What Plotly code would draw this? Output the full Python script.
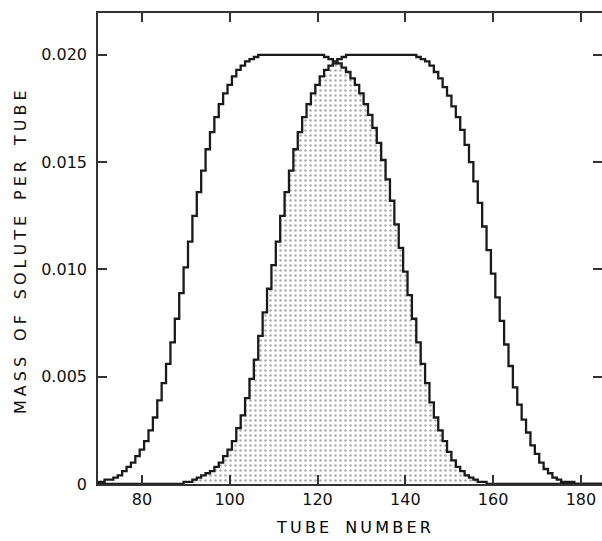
import numpy as np
import plotly.graph_objects as go

# Tube numbers
tubes = list(range(70, 186))

# Solute A (left band), mass per tube, tubes 70..185
solute_a = [
    0.0001, 0.0001, 0.0002, 0.0002, 0.0003, 0.0004, 0.0006, 0.0008, 0.0010, 0.0013,  # 70-79
    0.0016, 0.0020, 0.0025, 0.0031, 0.0039, 0.0047, 0.0056, 0.0066, 0.0077, 0.0089,  # 80-89
    0.0101, 0.0113, 0.0125, 0.0136, 0.0146, 0.0156, 0.0164, 0.0171, 0.0177, 0.0182,  # 90-99
    0.0186, 0.0190, 0.0193, 0.0195, 0.0197, 0.0198, 0.0199, 0.0200, 0.0200, 0.0200,  # 100-109
    0.0200, 0.0200, 0.0200, 0.0200, 0.0200, 0.0200, 0.0200, 0.0200, 0.0200, 0.0200,  # 110-119
    0.0200, 0.0200, 0.0199, 0.0198, 0.0197, 0.0196, 0.0194, 0.0192, 0.0189, 0.0186,  # 120-129
    0.0182, 0.0177, 0.0172, 0.0166, 0.0159, 0.0151, 0.0142, 0.0132, 0.0121, 0.0110,  # 130-139
    0.0099, 0.0088, 0.0077, 0.0066, 0.0056, 0.0047, 0.0038, 0.0031, 0.0025, 0.0020,  # 140-149
    0.0015, 0.0011, 0.0008, 0.0006, 0.0004, 0.0003, 0.0002, 0.0001, 0.0001, 0.0000,  # 150-159
    0.0, 0.0, 0.0, 0.0, 0.0, 0.0, 0.0, 0.0, 0.0, 0.0,                                # 160-169
    0.0, 0.0, 0.0, 0.0, 0.0, 0.0, 0.0, 0.0, 0.0, 0.0,                                # 170-179
    0.0, 0.0, 0.0, 0.0, 0.0, 0.0,                                                    # 180-185
]

# Solute B (right band), mass per tube, tubes 70..185
solute_b = [
    0.0, 0.0, 0.0, 0.0, 0.0, 0.0, 0.0, 0.0, 0.0, 0.0,                                # 70-79
    0.0, 0.0, 0.0, 0.0, 0.0, 0.0, 0.0, 0.0, 0.0, 0.0,                                # 80-89
    0.0001, 0.0001, 0.0002, 0.0003, 0.0004, 0.0005, 0.0006, 0.0008, 0.0010, 0.0013,  # 90-99
    0.0016, 0.0020, 0.0026, 0.0032, 0.0040, 0.0049, 0.0058, 0.0069, 0.0080, 0.0091,  # 100-109
    0.0102, 0.0113, 0.0125, 0.0136, 0.0146, 0.0156, 0.0164, 0.0171, 0.0177, 0.0182,  # 110-119
    0.0186, 0.0190, 0.0193, 0.0195, 0.0196, 0.0198, 0.0199, 0.0200, 0.0200, 0.0200,  # 120-129
    0.0200, 0.0200, 0.0200, 0.0200, 0.0200, 0.0200, 0.0200, 0.0200, 0.0200, 0.0200,  # 130-139
    0.0200, 0.0200, 0.0200, 0.0199, 0.0198, 0.0197, 0.0195, 0.0192, 0.0189, 0.0185,  # 140-149
    0.0181, 0.0176, 0.0171, 0.0165, 0.0158, 0.0150, 0.0141, 0.0131, 0.0120, 0.0109,  # 150-159
    0.0098, 0.0087, 0.0076, 0.0065, 0.0055, 0.0045, 0.0037, 0.0030, 0.0024, 0.0018,  # 160-169
    0.0014, 0.0010, 0.0007, 0.0005, 0.0003, 0.0002, 0.0001, 0.0001, 0.0001, 0.0000,  # 170-179
    0.0, 0.0, 0.0, 0.0, 0.0, 0.0,                                                    # 180-185
]

x_ticks = [80, 100, 120, 140, 160, 180]
x_tick_text = ["80", "100", "120", "140", "160", "180"]
y_ticks = [0, 0.005, 0.010, 0.015, 0.020]
y_tick_text = ["0", "0.005", "0.010", "0.015", "0.020"]
y_range = [0, 0.02195]

overlap = np.minimum(np.array(solute_a), np.array(solute_b))

ink = "#1a1a1a"
font_family = "DejaVu Sans, Arial, sans-serif"

fig = go.Figure()

fig.add_trace(go.Scatter(
    x=tubes, y=overlap, mode="lines", line_shape="hvh",
    line=dict(width=0, color="rgba(0,0,0,0)"),
    fill="tozeroy", fillcolor="white",
    fillpattern=dict(shape=".", size=5, solidity=0.2, fgcolor="#555555", bgcolor="white"),
    hoverinfo="skip", showlegend=False,
))
fig.add_trace(go.Scatter(
    x=tubes, y=solute_a, mode="lines", line_shape="hvh",
    line=dict(width=2.3, color=ink), showlegend=False,
))
fig.add_trace(go.Scatter(
    x=tubes, y=solute_b, mode="lines", line_shape="hvh",
    line=dict(width=2.3, color=ink), showlegend=False,
))
# invisible trace so the right-hand tick axis is drawn
fig.add_trace(go.Scatter(
    x=[tubes[0]], y=[0], yaxis="y2", mode="markers",
    marker=dict(opacity=0), hoverinfo="skip", showlegend=False,
))

tick_font = dict(family=font_family, size=16, color="#111")

fig.update_layout(
    xaxis=dict(
        range=[70, 184.8], tickvals=x_ticks, ticktext=x_tick_text,
        ticks="inside", ticklen=9, tickwidth=1.5, tickcolor="#333",
        showline=True, linecolor="#333", linewidth=1.6, mirror="ticks",
        showgrid=False, zeroline=False, tickfont=tick_font,
    ),
    yaxis=dict(
        range=y_range, tickvals=y_ticks, ticktext=y_tick_text,
        ticks="inside", ticklen=9, tickwidth=1.5, tickcolor="#333",
        showline=True, linecolor="#333", linewidth=1.6, mirror=False,
        showgrid=False, zeroline=False, ticklabelstandoff=6, tickfont=tick_font,
    ),
    yaxis2=dict(
        range=y_range, tickvals=y_ticks, overlaying="y", side="right",
        ticks="inside", ticklen=9, tickwidth=1.5, tickcolor="#333",
        showline=False, showgrid=False, zeroline=False, showticklabels=False,
    ),
)


def spaced(text, letter_gap="\u2005", word_gap="\u2003"):
    words = text.split(" ")
    return word_gap.join(letter_gap.join(list(w)) for w in words)


fig.add_annotation(
    text=spaced("MASS OF SOLUTE PER TUBE"), textangle=-90,
    xref="paper", yref="paper", x=(20 - 98) / 504, y=(484 - 252) / 471,
    xanchor="center", yanchor="middle", showarrow=False,
    font=dict(family=font_family, size=16, color="#111"),
)
fig.add_annotation(
    text=spaced("TUBE NUMBER", "\u2009", "\u2003"),
    xref="paper", yref="paper", x=(353 - 98) / 504, y=(484 - 527) / 471,
    xanchor="center", yanchor="middle", showarrow=False,
    font=dict(family=font_family, size=16, color="#000"),
)

fig.update_layout(
    width=602, height=541,
    margin=dict(l=98, r=0, t=13, b=57),
    paper_bgcolor="white", plot_bgcolor="white",
)

fig.write_html("out.html")
